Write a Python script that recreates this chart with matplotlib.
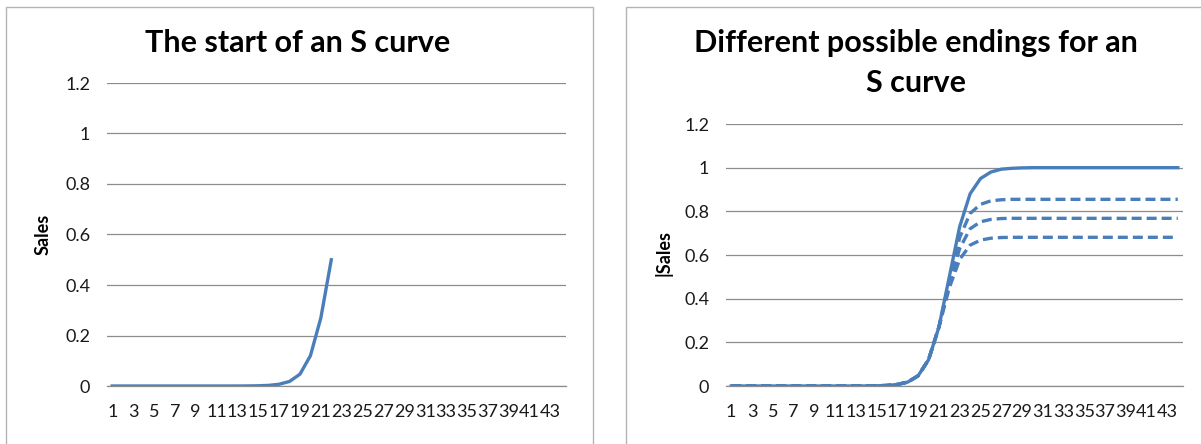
import matplotlib
matplotlib.use("Agg")
import matplotlib.pyplot as plt
from matplotlib.patches import Rectangle

plt.rcParams["font.family"] = ["Lato", "DejaVu Sans"]

# -- data
periods = list(range(1, 45))
tick_labels = [str(p) for p in range(1, 44, 2)]

start_sales = [0.0, 0.0, 0.0, 0.0, 0.0, 0.0, 0.0, 0.0, 0.0, 0.0,
               0.0, 0.0, 0.0, 0.0003, 0.0009, 0.0025, 0.007, 0.018, 0.047, 0.12,
               0.27, 0.5]

full_sales = start_sales + [0.73, 0.88, 0.95, 0.98, 0.993, 0.997, 0.999, 1.0,
                            1.0, 1.0, 1.0, 1.0, 1.0, 1.0, 1.0, 1.0, 1.0, 1.0,
                            1.0, 1.0, 1.0, 1.0]
ending_high = start_sales[:21] + [0.48, 0.68, 0.79, 0.832, 0.848, 0.853, 0.855,
                                  0.855, 0.855, 0.855, 0.855, 0.855, 0.855, 0.855,
                                  0.855, 0.855, 0.855, 0.855, 0.855, 0.855, 0.855,
                                  0.855, 0.855]
ending_mid = start_sales[:21] + [0.47, 0.63, 0.72, 0.752, 0.763, 0.767, 0.768,
                                 0.768, 0.768, 0.768, 0.768, 0.768, 0.768, 0.768,
                                 0.768, 0.768, 0.768, 0.768, 0.768, 0.768, 0.768,
                                 0.768, 0.768]
ending_low = start_sales[:21] + [0.45, 0.58, 0.645, 0.668, 0.677, 0.68, 0.681,
                                 0.681, 0.681, 0.681, 0.681, 0.681, 0.681, 0.681,
                                 0.681, 0.681, 0.681, 0.681, 0.681, 0.681, 0.681,
                                 0.681, 0.681]

yticks = [0, 0.2, 0.4, 0.6, 0.8, 1.0, 1.2]
ytick_labels = ["0", "0.2", "0.4", "0.6", "0.8", "1", "1.2"]

BLUE = "#4a7ebb"
GRID = "#8c8c8c"
W, H = 1201, 444

fig = plt.figure(figsize=(W / 100, H / 100), dpi=100)
fig.patch.set_facecolor("white")

# panel frames
for x0, x1 in [(6, 593), (626, 1215)]:
    fig.patches.append(Rectangle((x0 / W, -0.05), (x1 - x0) / W, 1 - 7 / H + 0.05,
                                 transform=fig.transFigure, fill=False,
                                 edgecolor="#b4b4b4", linewidth=1.0))


def style_axes(ax):
    ax.set_xlim(0.5, 44.5)
    ax.set_ylim(0, 1.2)
    ax.set_yticks(yticks)
    ax.set_yticklabels(ytick_labels)
    ax.set_xticks(range(1, 44, 2))
    ax.set_xticklabels(tick_labels)
    for s in ["top", "right", "left"]:
        ax.spines[s].set_visible(False)
    ax.spines["bottom"].set_color(GRID)
    ax.spines["bottom"].set_linewidth(0.9)
    ax.yaxis.grid(True, color=GRID, linewidth=0.9)
    ax.set_axisbelow(True)
    ax.tick_params(axis="both", length=0, labelsize=13, colors="#1a1a1a")
    ax.tick_params(axis="y", pad=12)
    ax.tick_params(axis="x", pad=13)


# -- LEFT: start of the curve
ax1 = fig.add_axes([107 / W, 1 - 386 / H, 459 / W, 303 / H])
style_axes(ax1)
ax1.plot(periods[:len(start_sales)], start_sales, color=BLUE, linewidth=2.4)
fig.text(298 / W, 1 - 43 / H, "The start of an S curve", ha="center", va="center",
         fontsize=22, fontweight="bold")
fig.text(43 / W, 1 - 234 / H, "Sales", rotation=90, ha="center", va="center",
         fontsize=13, fontweight="bold")

# -- RIGHT: possible endings
ax2 = fig.add_axes([726 / W, 1 - 386 / H, 457 / W, 262 / H])
style_axes(ax2)
for ser in [ending_high, ending_mid, ending_low]:
    ax2.plot(periods, ser, color=BLUE, linewidth=2.4, linestyle=(0, (3.0, 1.5)))
ax2.plot(periods, full_sales, color=BLUE, linewidth=2.4)
fig.text(916 / W, 1 - 43 / H, "Different possible endings for an", ha="center",
         va="center", fontsize=22, fontweight="bold")
fig.text(916 / W, 1 - 83 / H, "S curve", ha="center", va="center",
         fontsize=22, fontweight="bold")
fig.text(663 / W, 1 - 253 / H, "|Sales", rotation=90, ha="center", va="center",
         fontsize=13, fontweight="bold")

fig.savefig("out.png", dpi=100)
